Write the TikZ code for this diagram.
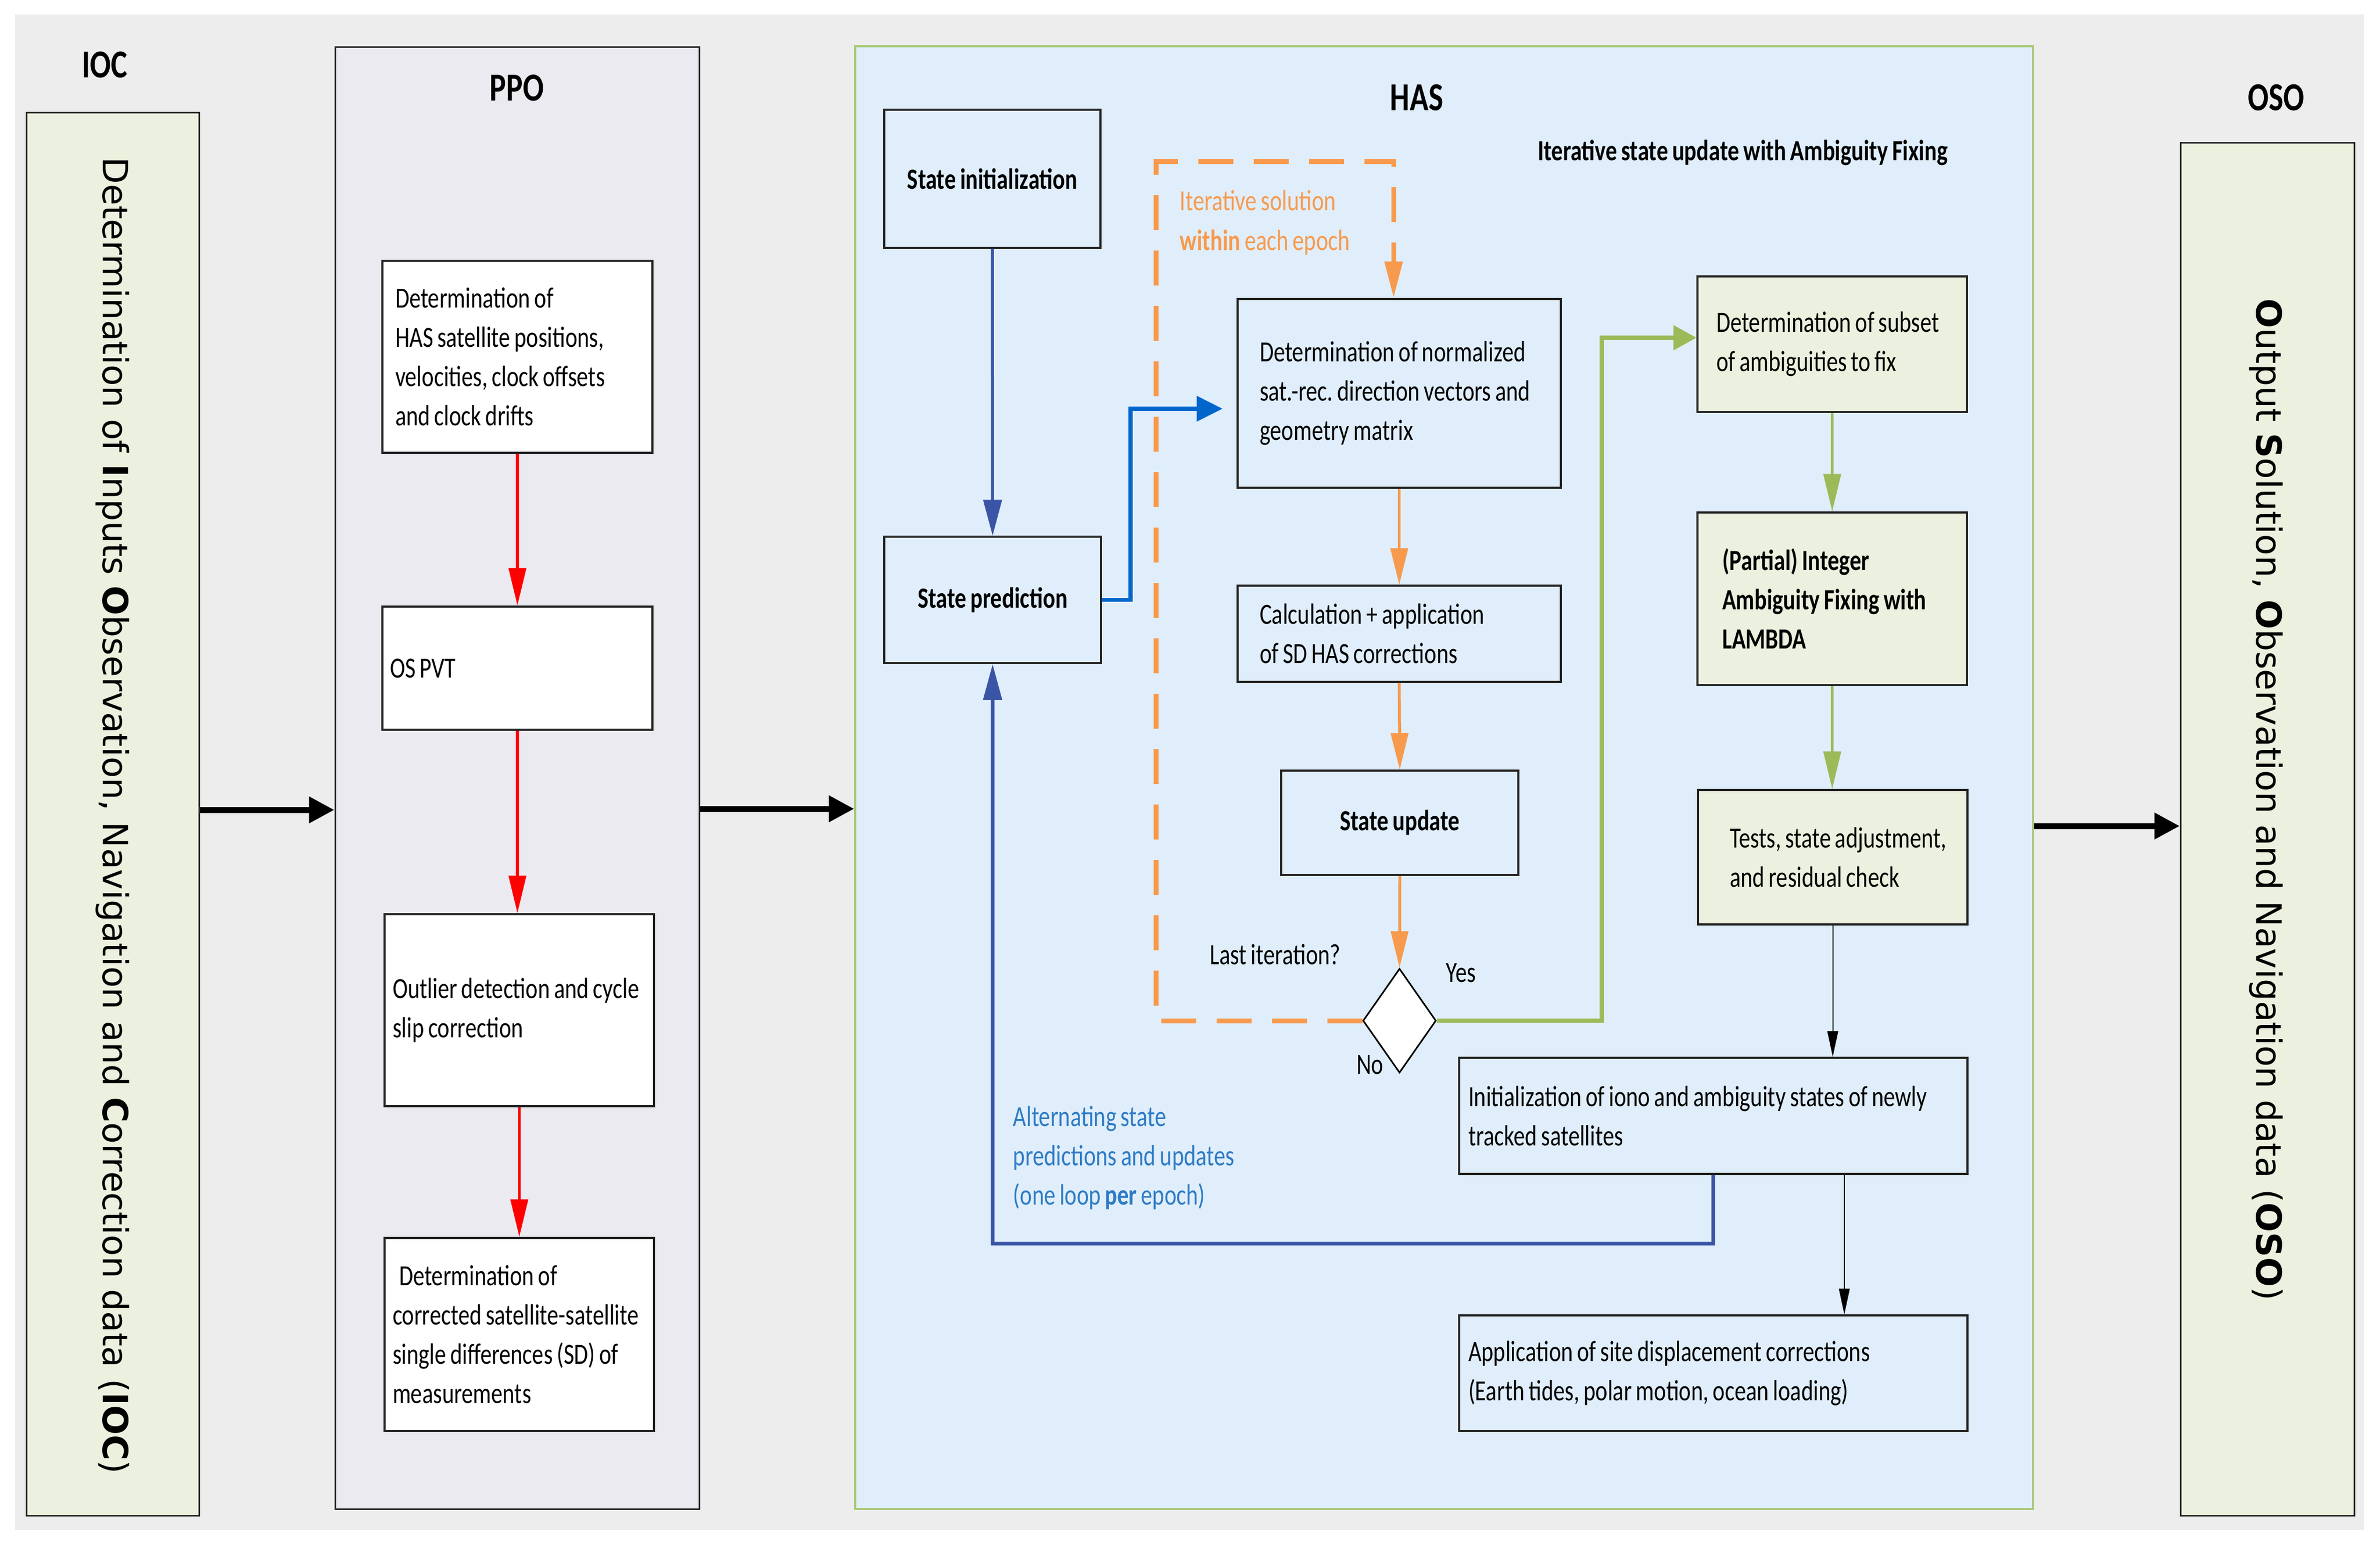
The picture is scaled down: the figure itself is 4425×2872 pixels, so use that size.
\documentclass[tikz,border=0pt]{standalone}
\usepackage{fontspec}
\setmainfont{Carlito}[FakeStretch=0.78, WordSpace=0.8]
\newfontfamily\vfont{DejaVu Sans}
\usetikzlibrary{arrows.meta,shapes.geometric,calc}
\definecolor{bggray}{HTML}{EDEDED}
\definecolor{lgreen}{HTML}{EBF1DE}
\definecolor{lav}{HTML}{ECEAF1}
\definecolor{lblue}{HTML}{E0EEFB}
\definecolor{hasborder}{HTML}{A9C97A}
\definecolor{orng}{HTML}{F79A4E}
\definecolor{dblue}{HTML}{3A55A6}
\definecolor{bblue}{HTML}{0066CC}
\definecolor{tblue}{HTML}{2E7BC4}
\definecolor{grn}{HTML}{9BBB59}
\definecolor{edge}{HTML}{262626}
\frenchspacing
\begin{document}
\begin{tikzpicture}[x=0.1mm, y=-0.1mm,
  txt/.style={inner sep=0pt, font=\fontsize{15.5}{20.8}\selectfont},
  box/.style={txt, draw=edge, line width=0.35mm, align=flush left},
  cbox/.style={draw=edge, line width=0.35mm, inner sep=0pt, align=center, font=\fontsize{15.5}{20.8}\selectfont\bfseries},
  container/.style={draw=edge, line width=0.3mm, inner sep=0pt},
  title/.style={inner sep=0pt, font=\fontsize{21}{25}\selectfont\bfseries},
  vtext/.style={inner sep=0pt, rotate=-90, font=\vfont\fontsize{18.4}{22}\selectfont},
  bigarrow/.style={black, line width=1.1mm, -{Triangle[length=4.7mm,width=4.7mm]}},
  redarrow/.style={red, line width=0.55mm, -{Triangle[length=7mm,width=3.2mm]}},
  orarrow/.style={orng, line width=0.55mm, -{Triangle[length=6.8mm,width=3.2mm]}},
  odash/.style={orng, line width=0.9mm, dash pattern=on 6.5mm off 3.8mm, -{Triangle[length=6.8mm,width=3.2mm]}},
  dbarrow/.style={dblue, line width=0.55mm, -{Triangle[length=6.7mm,width=3.4mm]}},
  bbarrow/.style={bblue, line width=0.75mm, -{Triangle[length=4.8mm,width=4.6mm]}},
  loopline/.style={dblue, line width=0.7mm, -{Triangle[length=6.7mm,width=3.4mm]}},
  garrow/.style={grn, line width=0.55mm, -{Triangle[length=7mm,width=3.2mm]}},
  gloop/.style={grn, line width=0.8mm, -{Triangle[length=4.3mm,width=4.5mm]}},
  thinarrow/.style={black, line width=0.2mm, -{Triangle[length=4.8mm,width=2mm]}}
]
\useasboundingbox (0,0) rectangle (4425,2872);
\fill[white] (0,0) rectangle (4425,2872);
\fill[bggray] (28,27) rectangle (4395,2845);

% containers
\node[container, fill=lgreen, minimum width=32.1mm, minimum height=260.9mm] (ioc) at (209.5,1513.5) {};
\node[container, fill=lav, minimum width=67.7mm, minimum height=271.9mm] (ppo) at (961.5,1446.5) {};
\node[draw=hasborder, line width=0.4mm, fill=lblue, inner sep=0pt, minimum width=219mm, minimum height=272mm] (has) at (2685,1446) {};
\node[container, fill=lgreen, minimum width=32.3mm, minimum height=255.3mm] (oso) at (4215.5,1541.5) {};

% titles
\node[title] (tioc) at (195,121) {IOC};
\node[title] (tppo) at (961,164) {PPO};
\node[title] (thas) at (2634,182) {HAS};
\node[title] (toso) at (4232,182) {OSO};
\node[vtext] (vioc) at (209,1517) {Determination of \textbf{I}nputs \textbf{O}bservation, Navigation and \textbf{C}orrection data (\textbf{IOC})};
\node[vtext] (voso) at (4213,1487) {\textbf{O}utput \textbf{S}olution, \textbf{O}bservation and Navigation data (\textbf{OSO})};

% PPO boxes
\node[box, fill=white, minimum width=50.2mm, minimum height=35.7mm, text width=45.4mm] (b1) at (962,663.5)
  {Determination of\\HAS satellite positions,\\velocities, clock offsets\\and clock drifts};
\node[box, fill=white, minimum width=50.2mm, minimum height=22.9mm, text width=47.4mm] (ospvt) at (962,1242.5) {OS PVT};
\node[box, fill=white, minimum width=50.1mm, minimum height=35.7mm, text width=47.1mm] (b3) at (965.5,1878.5)
  {\mbox{Outlier detection and cycle}\\slip correction};
\node[box, fill=white, minimum width=50.1mm, minimum height=35.9mm, text width=47.1mm] (b4) at (965.5,2481.5)
  {\hspace*{1.2mm}Determination of\\\mbox{corrected satellite-satellite}\\single differences (SD) of\\measurements};

% HAS boxes
\node[cbox, minimum width=40.2mm, minimum height=25.7mm] (init) at (1845,332.5) {State initialization};
\node[cbox, minimum width=40.3mm, minimum height=23.5mm] (pred) at (1845.5,1115.5) {State prediction};
\node[box, minimum width=60.1mm, minimum height=35.1mm, text width=51.9mm] (norm) at (2601.5,731.5)
  {Determination of normalized\\\mbox{sat.-rec. direction vectors and}\\geometry matrix};
\node[box, minimum width=60.1mm, minimum height=17.9mm, text width=51.9mm] (calc) at (2601.5,1178.5)
  {Calculation + application\\of SD HAS corrections};
\node[cbox, minimum width=44.1mm, minimum height=19.4mm] (upd) at (2602.5,1530) {State update};
\node[diamond, draw=black, line width=0.3mm, fill=white, inner sep=0pt, minimum width=13.6mm, minimum height=19.4mm] (dia) at (2602,1898) {};
\node[box, fill=lgreen, minimum width=50.1mm, minimum height=25.2mm, text width=43.1mm] (subset) at (3406.5,640)
  {\mbox{Determination of subset}\\of ambiguities to fix};
\node[box, fill=lgreen, minimum width=50.1mm, minimum height=32.1mm, text width=40.9mm, font=\fontsize{15.5}{20.8}\selectfont\bfseries] (partial) at (3406.5,1113.5)
  {(Partial) Integer\\\mbox{Ambiguity Fixing with}\\LAMBDA};
\node[box, fill=lgreen, minimum width=50.1mm, minimum height=25mm, text width=38.3mm] (tests) at (3407.5,1594)
  {\mbox{Tests, state adjustment,}\\and residual check};
\node[box, minimum width=94.5mm, minimum height=21.6mm, text width=91.1mm] (initio) at (3185.5,2075)
  {\mbox{Initialization of iono and ambiguity states of newly}\\tracked satellites};
\node[box, minimum width=94.5mm, minimum height=21.5mm, text width=91.1mm] (app) at (3185.5,2553.5)
  {Application of site displacement corrections\\(Earth tides, polar motion, ocean loading)};

% free labels
\node[txt, font=\fontsize{15.5}{20.8}\selectfont\bfseries] (titer) at (3240,284) {Iterative state update with Ambiguity Fixing};
\node[txt, text=orng, align=flush left, anchor=west] (tsol) at (2193,414) {Iterative solution\\\textbf{within} each epoch};
\node[txt, text=tblue, align=flush left, anchor=west] (talt) at (1883,2153) {Alternating state\\predictions and updates\\(one loop \textbf{per} epoch)};
\node[txt] (tlast) at (2371,1775) {Last iteration?};
\node[txt] (tyes) at (2716,1809) {Yes};
\node[txt] (tno) at (2547,1980) {No};

% coordinates
\coordinate (ya) at (0,1506);
\coordinate (yb) at (0,1504);
\coordinate (yc) at (0,1536);
\coordinate (bb1) at (2102,760);
\coordinate (bbtip) at (2273,760);
\coordinate (od1) at (2149,1898);
\coordinate (od2) at (2149,300);
\coordinate (od3) at (2591,300);
\coordinate (g2) at (2978,628);
\coordinate (loopc) at (1845.5,2312);
\coordinate (cx) at (3429,0);

% big arrows
\draw[bigarrow] (ioc.east |- ya) -- (ppo.west |- ya);
\draw[bigarrow] (ppo.east |- yb) -- (has.west |- yb);
\draw[bigarrow] (has.east |- yc) -- (oso.west |- yc);

% PPO arrows
\draw[redarrow] (b1.south) -- (ospvt.north);
\draw[redarrow] (ospvt.south) -- (ospvt.south |- b3.north);
\draw[redarrow] (b3.south) -- (b4.north);

% HAS arrows
\draw[odash] (dia.west) -- (od1) -- (od2) -- (od3) -- (od3 |- norm.north);
\draw[dbarrow] (init.south) -- (pred.north);
\draw[bbarrow] (pred.east) -| (bb1) -- (bbtip);
\draw[orarrow] (norm.south) -- (calc.north);
\draw[orarrow] (calc.south) -- (upd.north);
\draw[orarrow] (upd.south) -- (dia.north);
\draw[gloop] (dia.east) -| (g2) -- (subset.west |- g2);
\draw[garrow] (subset.south) -- (partial.north);
\draw[garrow] (partial.south) -- (partial.south |- tests.north);
\draw[thinarrow] (tests.south) -- (tests.south |- initio.north);
\draw[thinarrow] (initio.south -| cx) -- (app.north -| cx);
\draw[loopline] (initio.south) |- (loopc) -- (pred.south);
\end{tikzpicture}
\end{document}
